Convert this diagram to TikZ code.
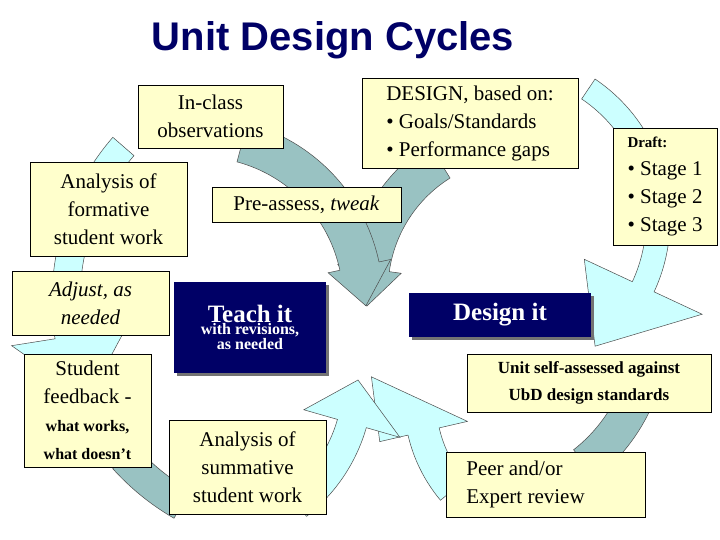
\documentclass[tikz,border=0pt]{standalone}
\usepackage{fontspec}
\setmainfont{Liberation Serif}
\newfontfamily\titlefont{Liberation Sans}
\usetikzlibrary{calc,shadows}
\definecolor{navy}{HTML}{000066}
\definecolor{boxyellow}{HTML}{FFFFCC}
\definecolor{palecyan}{HTML}{CCFFFF}
\definecolor{grayteal}{HTML}{99C2C2}
% band arrow: center, r, start, end, half width, head half, tip angle, tip r, style
\newcommand\cycarrow[9]{%
  \filldraw[#9] ($(#1)+(#3:{#2+#5})$) arc[start angle=#3,end angle=#4,radius={#2+#5}]
    -- ($(#1)+(#4:{#2+#6})$) -- ($(#1)+(#7:#8)$) -- ($(#1)+(#4:{#2-#6})$)
    -- ($(#1)+(#4:{#2-#5})$) arc[start angle=#4,end angle=#3,radius={#2-#5}] -- cycle;}
\tikzset{
  pale/.style={fill=palecyan,draw=black!70,line width=0.5pt},
  dull/.style={fill=grayteal,draw=black!70,line width=0.5pt},
  note/.style={draw=black,line width=0.6pt,fill=boxyellow,align=center,inner sep=2pt,
    font=\fontsize{21}{28}\selectfont},
  dark/.style={fill=navy,text=white,align=center,inner sep=2pt,font=\bfseries,
    drop shadow={shadow xshift=3pt,shadow yshift=-3pt,fill=black!55,opacity=1}},
}
\begin{document}
\begin{tikzpicture}[x=1pt,y=1pt]
  \useasboundingbox (0,0) rectangle (720,-540);
  \fill[white] (0,0) rectangle (720,-540);
  \node (title) at (333,-40) {\titlefont\bfseries\fontsize{40}{48}\selectfont\color{navy}Unit Design Cycles};

  % cycle centers
  \coordinate (cR) at (500,-220);
  \coordinate (cRb) at (480,-330);
  \coordinate (cP) at (560,-400);
  \coordinate (cL) at (300,-300);
  \coordinate (cS) at (200,-380);
  \coordinate (cT) at (200,-300);
  \coordinate (cD) at (520,-290);

  % bands
  \cycarrow{cR}{158}{56}{-25}{12}{65}{-53}{158}{pale}
  \cycarrow{cRb}{170}{-22}{-52}{18}{18}{-52}{170}{dull}
  \cycarrow{cP}{140}{-140}{-167}{16}{45}{-187}{190}{pale}
  \cycarrow{cL}{234}{139}{189}{14}{58}{205}{234}{pale}
  \cycarrow{cL}{236}{222}{240}{16}{16}{240}{236}{dull}
  \cycarrow{cS}{158}{-52}{-16}{15}{50}{0}{158}{pale}
  \cycarrow{cD}{152}{122}{172}{20}{32}{186}{154}{dull}
  \cycarrow{cT}{163}{75}{12}{20}{32}{-2}{166}{dull}

  % boxes
  \node[note,minimum width=145,minimum height=63] (inclass) at (210.5,-116.5) {In-class\\observations};
  \node[note,minimum width=216,minimum height=90,align=left] (design) at (470,-123)
    {DESIGN, based on:\\\textbullet\ Goals/Standards\\\textbullet\ Performance gaps};
  \node[note,minimum width=104,minimum height=117,align=left] (draft) at (665,-186.5)
    {{\fontsize{15}{24}\selectfont\bfseries Draft:}\\\textbullet\ Stage 1\\\textbullet\ Stage 2\\\textbullet\ Stage 3};
  \node[note,minimum width=157,minimum height=94] (formative) at (108.5,-209) {Analysis of\\formative\\student work};
  \node[note,minimum width=189,minimum height=35] (preassess) at (306.5,-204.5) {Pre-assess, \textit{tweak}};
  \node[note,minimum width=157,minimum height=64,font=\itshape\fontsize{21}{28}\selectfont] (adjust) at (90.5,-303) {Adjust, as\\needed};
  \node[dark,minimum width=152,minimum height=91] (teach) at (250,-327.5)
    {{\fontsize{25}{32}\selectfont Teach it}\\{\fontsize{16}{24}\selectfont with revisions,}\\{\fontsize{16}{24}\selectfont as needed}};
  \node[dark,minimum width=182,minimum height=44,font=\bfseries\fontsize{25}{30}\selectfont] (designit) at (500,-315) {Design it};
  \node[note,minimum width=127,minimum height=113] (feedback) at (87.5,-410.5)
    {Student\\feedback -\\{\fontsize{16}{24}\selectfont\bfseries what works,}\\{\fontsize{16}{24}\selectfont\bfseries what doesn't}};
  \node[note,minimum width=244,minimum height=58,font=\bfseries\fontsize{17}{27}\selectfont] (unitself) at (589,-383)
    {Unit self-assessed against\\UbD design standards};
  \node[note,minimum width=157,minimum height=94] (summative) at (247.5,-467) {Analysis of\\summative\\student work};
  \node[note,minimum width=199,minimum height=65,align=left] (peer) at (545.5,-484.5) {Peer and/or\\Expert review\hspace*{40pt}};
\end{tikzpicture}
\end{document}
